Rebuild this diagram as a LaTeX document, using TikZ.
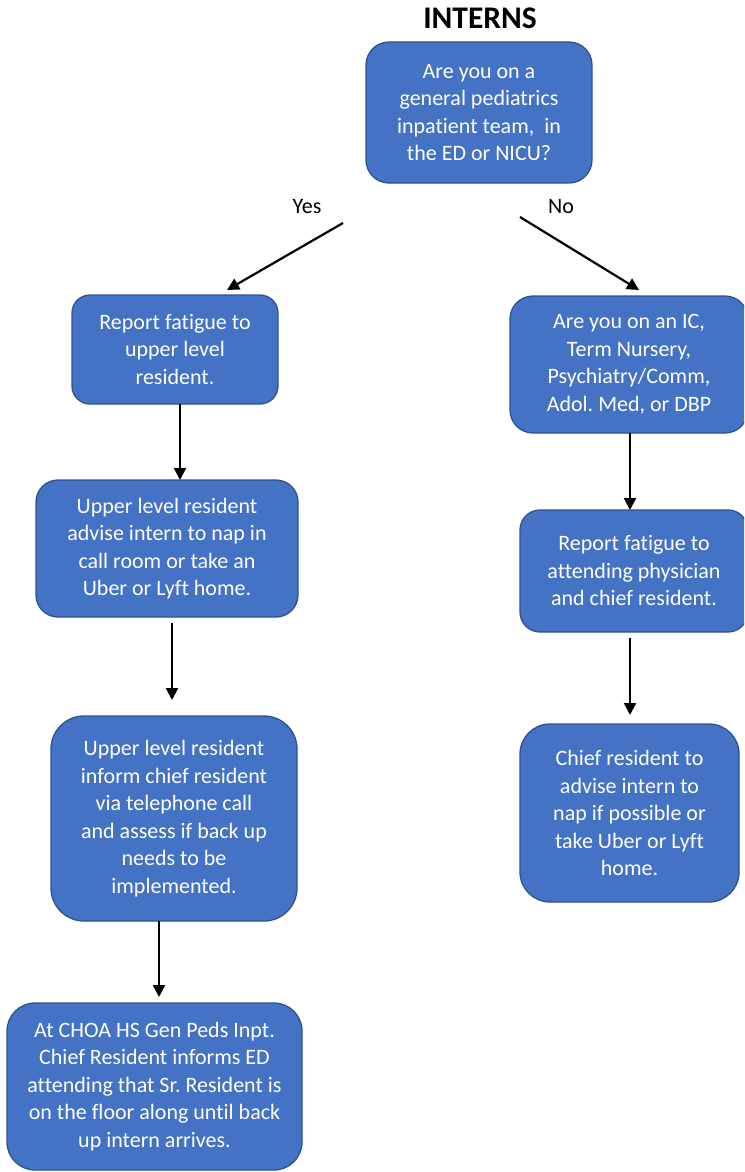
\documentclass[tikz,border=0pt]{standalone}
\usepackage{fontspec}
\setmainfont{Carlito}[Ligatures={NoCommon}]
\frenchspacing
\usetikzlibrary{arrows.meta}
\definecolor{boxfill}{HTML}{4472C4}
\definecolor{boxline}{HTML}{2F528F}
\tikzset{
  box/.style={draw=boxline, fill=boxfill, line width=1.3pt, text=white,
    inner sep=0pt, outer sep=0pt, align=center,
    font=\fontsize{22}{27.5}\selectfont},
  lbl/.style={inner sep=0pt, font=\fontsize{22}{27.5}\selectfont},
  arr/.style={line width=2.2pt, -{Triangle[length=12pt,width=12pt]}}
}
\begin{document}
\begin{tikzpicture}[x=1pt,y=-1pt]
\useasboundingbox (0,0) rectangle (744,1172);
\clip (0,0) rectangle (744,1172);
\node[font=\fontsize{31.5}{36}\selectfont\bfseries, inner sep=0pt] (title) at (480,18.5) {INTERNS};
\node[box, minimum width=226pt, minimum height=141pt, rounded corners=23pt] (top) at (479,112.5)
  {Are you on a\\general pediatrics\\inpatient team,~ in\\the ED or NICU?};
\node[lbl] (yes) at (307,207) {Yes};
\node[lbl] (no) at (561,207) {No};
\coordinate (ys) at (343,223);
\coordinate (ns) at (520,217);
\node[box, minimum width=206pt, minimum height=109pt, rounded corners=18pt] (L1) at (175,349.5)
  {Report fatigue to\\upper level\\resident.};
\node[box, minimum width=262pt, minimum height=137pt, rounded corners=22pt] (L2) at (167,548.5)
  {Upper level resident\\advise intern to nap in\\call room or take an\\Uber or Lyft home.};
\node[box, minimum width=246pt, minimum height=205pt, rounded corners=33pt] (L3) at (174,818.5)
  {Upper level resident\\inform chief resident\\via telephone call\\and assess if back up\\needs to be\\implemented.};
\node[box, minimum width=295pt, minimum height=167pt, rounded corners=28pt] (L4) at (154.5,1086.5)
  {At CHOA HS Gen Peds Inpt.\\Chief Resident informs ED\\attending that Sr. Resident is\\on the floor along until back\\up intern arrives.};
\node[box, minimum width=238pt, minimum height=137pt, rounded corners=23pt] (R1) at (629,364.5)
  {Are you on an IC,\\Term Nursery,\\Psychiatry/Comm,\\Adol. Med, or DBP};
\node[box, minimum width=228pt, minimum height=122pt, rounded corners=20pt] (R2) at (634,571)
  {Report fatigue to\\attending physician\\and chief resident.};
\node[box, minimum width=219pt, minimum height=178pt, rounded corners=30pt] (R3) at (629.5,813)
  {Chief resident to\\advise intern to\\nap if possible or\\take Uber or Lyft\\home.};
\draw[arr] (ys) -- ([xshift=52pt,yshift=5pt]L1.north);
\draw[arr] (ns) -- ([xshift=10pt,yshift=6pt]R1.north);
\draw[arr] ([xshift=5pt]L1.south) -- ([xshift=13pt]L2.north);
\draw[arr] ([xshift=5pt,yshift=-6pt]L2.south) -- ([xshift=-2pt,yshift=16pt]L3.north);
\draw[arr] ([xshift=-15pt]L3.south) -- ([xshift=4.5pt,yshift=6pt]L4.north);
\draw[arr] ([xshift=1pt]R1.south) -- ([xshift=-4pt]R2.north);
\draw[arr] ([xshift=-4pt,yshift=-6pt]R2.south) -- ([xshift=0.5pt,yshift=9pt]R3.north);
\end{tikzpicture}
\end{document}
